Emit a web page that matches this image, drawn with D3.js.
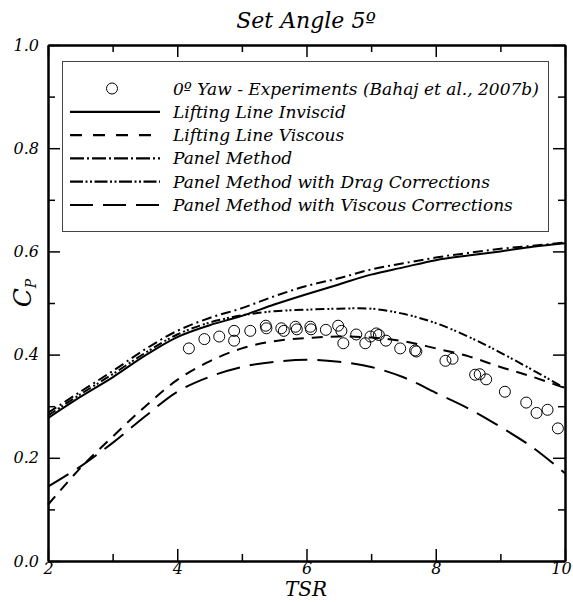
<!DOCTYPE html>
<html>
<head>
<meta charset="utf-8">
<script src="https://cdn.jsdelivr.net/npm/d3@7"></script>
<style>
  body { margin: 0; background: #fff; }
  .axis path, .axis line { stroke: #000; }
  .axis path { stroke-width: 2; }
  .axis line { stroke-width: 1.5; }
</style>
</head>
<body>
<div id="chart"></div>
<script>
// TSR sample positions for the model curves
var tsrGrid = [2, 2.5, 3, 3.5, 4, 4.5, 5, 5.5, 6, 6.5, 7, 7.5, 8, 8.5, 9, 9.5, 10];

var liftingLineInviscid = [0.277, 0.318, 0.356, 0.398, 0.434, 0.457, 0.475, 0.497, 0.517,
  0.536, 0.555, 0.569, 0.583, 0.592, 0.600, 0.609, 0.616];
var liftingLineViscous = [0.109, 0.180, 0.241, 0.299, 0.351, 0.387, 0.412, 0.426, 0.432,
  0.435, 0.433, 0.426, 0.412, 0.397, 0.376, 0.357, 0.335];
var panelMethod = [0.287, 0.328, 0.368, 0.410, 0.446, 0.471, 0.490, 0.513, 0.533,
  0.548, 0.565, 0.577, 0.588, 0.597, 0.605, 0.611, 0.617];
var panelDrag = [0.282, 0.323, 0.362, 0.403, 0.439, 0.462, 0.476, 0.484, 0.487,
  0.489, 0.489, 0.479, 0.461, 0.435, 0.404, 0.370, 0.335];
var panelViscous = [0.144, 0.183, 0.229, 0.280, 0.328, 0.357, 0.376, 0.386, 0.390,
  0.386, 0.376, 0.356, 0.326, 0.296, 0.260, 0.220, 0.170];

// Bahaj et al. (2007b) experiments, 0 deg yaw
var expTsr = [4.18, 4.42, 4.65, 4.88, 4.88, 5.13, 5.37, 5.38, 5.61, 5.65, 5.83, 5.85,
  6.06, 6.07, 6.30, 6.49, 6.54, 6.57, 6.77, 6.91, 6.99, 7.08, 7.12, 7.23, 7.45,
  7.68, 7.70, 8.15, 8.26, 8.61, 8.68, 8.78, 9.07, 9.40, 9.56, 9.73, 9.89];
var expCp = [0.412, 0.430, 0.435, 0.446, 0.427, 0.446, 0.456, 0.451, 0.451, 0.446, 0.454, 0.449,
  0.454, 0.449, 0.448, 0.456, 0.446, 0.422, 0.439, 0.422, 0.435, 0.441, 0.438, 0.427, 0.412,
  0.408, 0.406, 0.388, 0.392, 0.361, 0.362, 0.352, 0.328, 0.307, 0.287, 0.293, 0.257];

var legendLabels = [
  '0º Yaw - Experiments (Bahaj et al., 2007b)',
  'Lifting Line Inviscid',
  'Lifting Line Viscous',
  'Panel Method',
  'Panel Method with Drag Corrections',
  'Panel Method with Viscous Corrections'
];

var xMajorTicks = [2, 4, 6, 8, 10];
var xMinorTicks = [3, 5, 7, 9];
var yMajorTicks = [0, 0.2, 0.4, 0.6, 0.8, 1.0];
var yMinorTicks = [0.1, 0.3, 0.5, 0.7, 0.9];

var series = [
  {values: liftingLineInviscid, dash: null, legendDash: null},
  {values: liftingLineViscous, dash: '11,8', legendDash: '12,11'},
  {values: panelMethod, dash: '10,4,2,4', legendDash: '14,3,2,3'},
  {values: panelDrag, dash: '9,3,2,2,2,3', legendDash: '13,2.5,2,2.5,2,2.5'},
  {values: panelViscous, dash: '24,10', legendDash: '23,10'}
];

var FONT = '"DejaVu Serif", serif';
var W = 573, H = 602;
var plot = {left: 48, right: 565, top: 45, bottom: 561};

var svg = d3.select('#chart').append('svg')
  .attr('width', W)
  .attr('height', H)
  .attr('font-family', FONT)
  .attr('font-style', 'italic');

var x = d3.scaleLinear().domain([2, 10]).range([plot.left, plot.right]);
var y = d3.scaleLinear().domain([0, 1]).range([plot.bottom, plot.top]);

function translate(a, b) {
  return 'translate(' + a + ',' + b + ')';
}

// axes: ticks point into the plot on all four sides
function drawAxis(axisFn, scale, pos, major, minor, labelFmt, pad) {
  svg.append('g')
    .attr('class', 'axis')
    .attr('transform', translate(pos[0], pos[1]))
    .call(axisFn(scale).tickValues(minor).tickSize(-7).tickSizeOuter(0).tickFormat(''));
  var g = svg.append('g')
    .attr('class', 'axis')
    .attr('transform', translate(pos[0], pos[1]))
    .call(axisFn(scale).tickValues(major).tickSize(-12).tickSizeOuter(0)
      .tickPadding(pad).tickFormat(labelFmt || ''));
  g.attr('font-family', FONT).attr('font-size', 16);
  g.selectAll('text').attr('fill', '#000');
  return g;
}

var xAxisG = drawAxis(d3.axisBottom, x, [0, plot.bottom], xMajorTicks, xMinorTicks, d3.format('d'), 2);
drawAxis(d3.axisTop, x, [0, plot.top], xMajorTicks, xMinorTicks, null, 3);
drawAxis(d3.axisLeft, y, [plot.left, 0], yMajorTicks, yMinorTicks, d3.format('.1f'), 9);
drawAxis(d3.axisRight, y, [plot.right, 0], yMajorTicks, yMinorTicks, null, 3);

// keep the last x label inside the frame
xAxisG.selectAll('.tick')
  .filter(function(d) { return d === 10; })
  .select('text')
  .attr('dx', -4);

// curves
var line = d3.line()
  .x(function(d) { return x(d[0]); })
  .y(function(d) { return y(d[1]); })
  .curve(d3.curveCatmullRom);

series.forEach(function(s) {
  var pts = tsrGrid.map(function(t, i) { return [t, s.values[i]]; });
  svg.append('path')
    .attr('d', line(pts))
    .attr('fill', 'none')
    .attr('stroke', '#000')
    .attr('stroke-width', 2)
    .attr('stroke-dasharray', s.dash);
});

svg.append('g').selectAll('circle')
  .data(expTsr)
  .enter()
  .append('circle')
  .attr('cx', function(d) { return x(d); })
  .attr('cy', function(d, i) { return y(expCp[i]); })
  .attr('r', 5.5)
  .attr('fill', 'none')
  .attr('stroke', '#000')
  .attr('stroke-width', 1);

// legend
var lg = svg.append('g');
lg.append('rect')
  .attr('x', 62.5)
  .attr('y', 61.5)
  .attr('width', 486)
  .attr('height', 170)
  .attr('fill', '#fff')
  .attr('stroke', '#444')
  .attr('stroke-width', 1);

var rowY = function(i) { return 88.5 + i * 23.3; };

lg.append('circle')
  .attr('cx', 112)
  .attr('cy', rowY(0))
  .attr('r', 5.5)
  .attr('fill', 'none')
  .attr('stroke', '#000');

series.forEach(function(s, i) {
  lg.append('line')
    .attr('x1', 70)
    .attr('x2', 160)
    .attr('y1', rowY(i + 1))
    .attr('y2', rowY(i + 1))
    .attr('stroke', '#000')
    .attr('stroke-width', 2.2)
    .attr('stroke-dasharray', s.legendDash);
});

legendLabels.forEach(function(label, i) {
  lg.append('text')
    .attr('x', 173)
    .attr('y', rowY(i) + 6)
    .attr('font-size', 17)
    .text(label);
});

// titles
svg.append('text')
  .attr('x', 306)
  .attr('y', 28)
  .attr('text-anchor', 'middle')
  .attr('font-size', 22)
  .text('Set Angle 5º');

svg.append('text')
  .attr('x', 306)
  .attr('y', 596)
  .attr('text-anchor', 'middle')
  .attr('font-size', 20)
  .text('TSR');

var yl = svg.append('text')
  .attr('transform', translate(31, 293) + ' rotate(-90)')
  .attr('text-anchor', 'middle')
  .attr('font-size', 25);
yl.append('tspan').text('C');
yl.append('tspan').attr('dy', 5).attr('font-size', 14).text('P');
</script>
</body>
</html>
